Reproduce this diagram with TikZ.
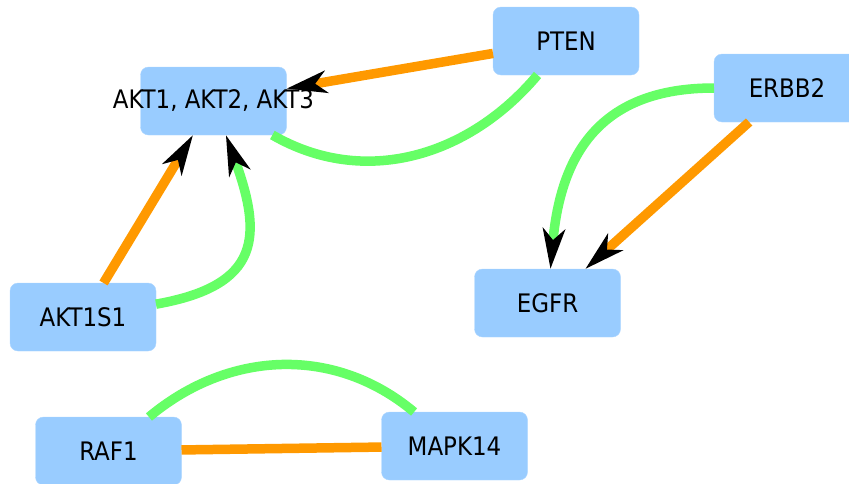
\documentclass[tikz,border=0pt]{standalone}
\usepackage{fontspec}
\setmainfont{DejaVu Sans Condensed}
\usetikzlibrary{arrows.meta}

\definecolor{boxblue}{HTML}{99CCFF}
\definecolor{linkgreen}{HTML}{66FF66}
\definecolor{linkorange}{HTML}{FF9900}

\tikzset{
    genebox/.style={fill=boxblue, draw=boxblue!80, rounded corners=8pt, minimum width=146pt, minimum height=68pt, inner sep=0pt, outer sep=0pt, font=\fontsize{25.5}{30}\selectfont},
    greenlink/.style={draw=linkgreen, line width=9.5pt},
    orangelink/.style={draw=linkorange, line width=9.5pt},
    headtip/.style={-{Stealth[black, length=40pt, width=22pt, inset=11pt]}}
}

\begin{document}
\begin{tikzpicture}[x=1pt, y=1pt]
        \useasboundingbox (0,0) rectangle (849,-483);

        \node[genebox] (pten) at (566,-41) {PTEN};
        \node[genebox] (akt) at (213.5,-101) {\makebox[0pt]{AKT1, AKT2, AKT3}};
        \node[genebox] (erbb2) at (787,-88) {ERBB2};
        \node[genebox] (egfr) at (547.5,-303) {EGFR};
        \node[genebox] (akt1s1) at (83,-317) {AKT1S1};
        \node[genebox] (raf1) at (108.5,-451) {RAF1};
        \node[genebox] (mapk14) at (454.5,-446) {MAPK14};

        \draw[orangelink, headtip] (pten) -- (akt);
        \draw[greenlink] (akt) to[out=-30, in=-130] (pten);

        \draw[orangelink, headtip] (akt1s1) -- (akt);
        \draw[greenlink, headtip] (akt1s1) to[out=10, in=-70, looseness=1.5] (akt);

        \draw[greenlink, headtip] (erbb2) to[out=180, in=85, looseness=1.2] (egfr);
        \draw[orangelink, headtip] (erbb2) -- (egfr);

        \draw[orangelink] (raf1) -- (mapk14);
        \draw[greenlink] (raf1) to[out=40, in=140] (mapk14);
    \end{tikzpicture}
\end{document}
